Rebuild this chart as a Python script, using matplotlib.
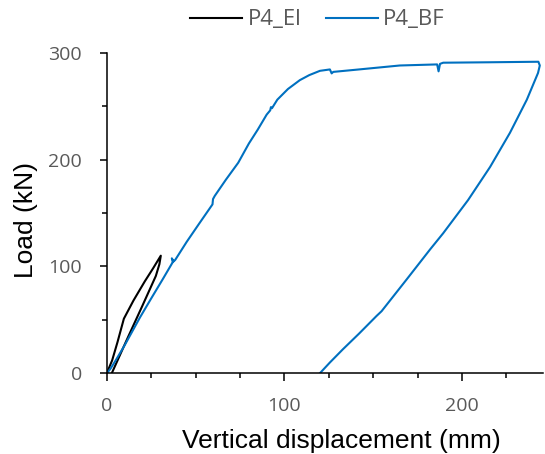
import matplotlib
matplotlib.use("Agg")
import matplotlib.pyplot as plt
from matplotlib.ticker import MultipleLocator

# P4_El (elastic test) load-displacement
el_disp = [0, 3, 6, 9.6, 15, 21.4, 26, 30.4, 29.6, 27.6, 20, 12, 2.8]
el_load = [0, 12, 29, 51, 68, 86, 98, 110, 102, 91, 63, 34, 0]

# P4_BF (test to failure) load-displacement
bf_disp = [0, 2, 5, 10, 18.6, 25, 31.5, 37.5, 36.6, 37.2, 38.5, 45, 52, 59.5,
           59.8, 60.8, 67, 74, 80, 85, 90, 92, 92.4, 93, 96, 102, 108.7, 114,
           120, 125.6, 126.6, 127.5, 142, 165, 186, 186.8, 187.6, 189.4, 215,
           243, 243.8, 242.8, 236.5, 227, 215.8, 203.4, 189.4, 182, 168.8,
           154.7, 151.9, 142, 133, 125.6, 120]
bf_load = [0, 4, 12, 26, 52, 70, 88, 105, 107.5, 104, 106, 123, 140, 158,
           163, 166, 181, 197, 215, 228, 242, 246, 249, 248, 256, 266, 274.3, 279,
           283, 284.3, 280.6, 282, 284.3, 288, 289, 282.5, 289.5, 290.6, 291,
           291.5, 288, 281, 256, 225, 193, 162, 131, 115.8, 87.7,
           58, 53.6, 37, 22.5, 10, 0]

x_major = [0, 100, 200]
y_major = [0, 100, 200, 300]

fig = plt.figure(figsize=(5.45, 4.54), dpi=100)
ax = fig.add_axes([0.196, 0.178, 0.800, 0.706])

ax.plot(el_disp, el_load, color="black", lw=1.5, label="P4_El")
ax.plot(bf_disp, bf_load, color="#0070C0", lw=1.5, label="P4_BF")

ax.set_xlim(0, 245.5)
ax.set_ylim(0, 300)
ax.set_xticks(x_major)
ax.set_yticks(y_major)
ax.xaxis.set_minor_locator(MultipleLocator(25))
ax.yaxis.set_minor_locator(MultipleLocator(50))

for s in ["top", "right"]:
    ax.spines[s].set_visible(False)
for s in ["left", "bottom"]:
    ax.spines[s].set_linewidth(1.1)
    ax.spines[s].set_color("black")

ax.tick_params(axis="x", which="major", direction="out", length=6, width=1.1,
               labelsize=14, labelcolor="#595959", pad=11)
ax.tick_params(axis="y", which="major", direction="out", length=5, width=1.1,
               labelsize=14, labelcolor="#595959", pad=13)
ax.tick_params(which="minor", direction="out", length=3.5, width=1.1)
for lab in ax.get_xticklabels() + ax.get_yticklabels():
    lab.set_family(["Open Sans", "DejaVu Sans"])

ax.set_xlabel("Vertical displacement (mm)", fontsize=19,
              family=["Liberation Sans", "DejaVu Sans"])
ax.xaxis.label.set_va("baseline")
ax.xaxis.set_label_coords(0.537, -0.234)
ax.set_ylabel("Load (kN)", fontsize=19,
              family=["Liberation Sans", "DejaVu Sans"])
ax.yaxis.label.set_va("center")
ax.yaxis.set_label_coords(-0.186, 0.477)

leg = fig.legend(loc="center", bbox_to_anchor=(0.5826, 0.956), ncol=2,
                 frameon=False, handlelength=2.34, columnspacing=1.1,
                 handletextpad=0.25,
                 prop={"family": ["Open Sans", "DejaVu Sans"], "size": 16})
for t in leg.get_texts():
    t.set_color("#595959")

fig.savefig("out.png", dpi=100)
